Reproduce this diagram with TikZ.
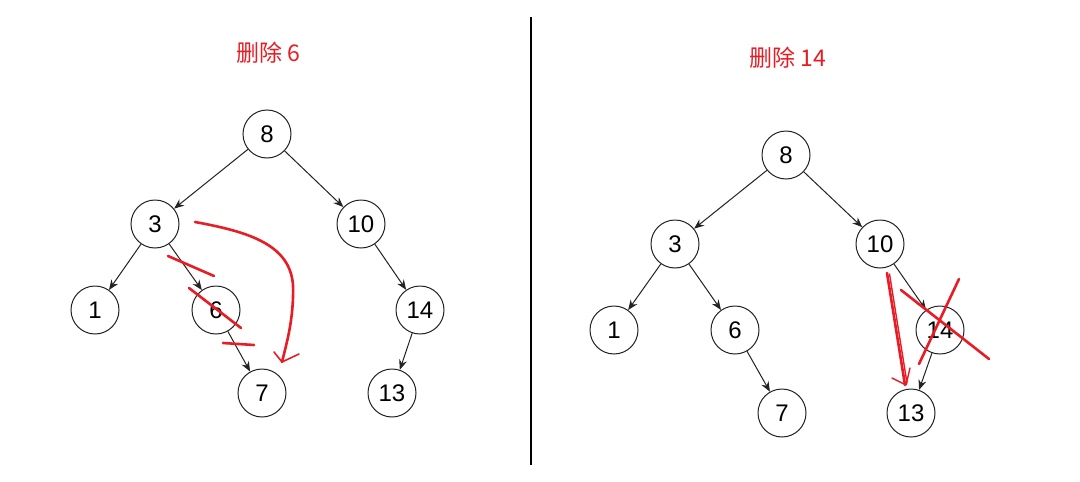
\documentclass[tikz,border=0pt]{standalone}
\usepackage{fontspec}
\setmainfont{Liberation Sans}
\newfontfamily\cjk{Noto Sans CJK SC}
\usetikzlibrary{arrows.meta}
\definecolor{mred}{RGB}{232,28,36}
\definecolor{ink}{RGB}{35,35,35}
\tikzset{
  tnode/.style={circle,draw=ink,line width=1pt,minimum size=48pt,inner sep=0pt,font=\fontsize{24}{26}\selectfont},
  edge/.style={draw=ink,line width=1pt,-{Stealth[length=10pt,width=8pt]}},
  redmark/.style={draw=mred,line width=2.6pt,line cap=round,line join=round},
  ttl/.style={text=mred,font=\cjk\fontsize{23}{26}\selectfont}
}
\begin{document}
\begin{tikzpicture}[x=1pt,y=-1pt]
\useasboundingbox[fill=white] (0,0) rectangle (1080,482);
% titles
\node[ttl] (t1) at (268,53) {删除 6};
\node[ttl] (t2) at (788,58) {删除 14};
% divider
\coordinate (d1) at (531,17);
\coordinate (d2) at (531,465);
\draw[line width=2.6pt,black] (d1) -- (d2);
% left tree
\node[tnode] (a8) at (267,134) {8};
\node[tnode] (a3) at (155,224) {3};
\node[tnode] (a10) at (361,224) {10};
\node[tnode] (a1) at (95,310) {1};
\node[tnode] (a6) at (216,310) {6};
\node[tnode] (a14) at (420,310) {14};
\node[tnode] (a7) at (262,393) {7};
\node[tnode] (a13) at (392,393) {13};
\draw[edge] (a8) -- (a3);
\draw[edge] (a8) -- (a10);
\draw[edge] (a3) -- (a1);
\draw[edge] (a3) -- (a6);
\draw[edge] (a6) -- (a7);
\draw[edge] (a10) -- (a14);
\draw[edge] (a14) -- (a13);
% right tree
\node[tnode] (b8) at (786,155) {8};
\node[tnode] (b3) at (675,244) {3};
\node[tnode] (b10) at (880,244) {10};
\node[tnode] (b1) at (614,330) {1};
\node[tnode] (b6) at (735,330) {6};
\node[tnode] (b14) at (940,330) {14};
\node[tnode] (b7) at (782,413) {7};
\node[tnode] (b13) at (911,413) {13};
\draw[edge] (b8) -- (b3);
\draw[edge] (b8) -- (b10);
\draw[edge] (b3) -- (b1);
\draw[edge] (b3) -- (b6);
\draw[edge] (b6) -- (b7);
\draw[edge] (b10) -- (b14);
\draw[edge] (b14) -- (b13);
% red marks left
\draw[redmark] (195,222) .. controls (250,232) and (290,245) .. (293,285) .. controls (294,320) and (286,345) .. (282,362);
\draw[redmark,line width=1.6pt] (274,352) -- (282,362) -- (299,354);
\draw[redmark] (168,256) -- (214,276);
\draw[redmark] (189,288) -- (241,328);
\draw[redmark] (223,343) -- (254,345);
% red marks right
\draw[redmark] (887,273) -- (905,385);
\draw[redmark,line width=1.4pt] (889.5,274) -- (907,383);
\draw[redmark,line width=1.4pt] (892,378) -- (906,385) -- (910,368);
\draw[redmark] (901,290) -- (989,359);
\draw[redmark] (959,279) -- (919,364);
\end{tikzpicture}
\end{document}
